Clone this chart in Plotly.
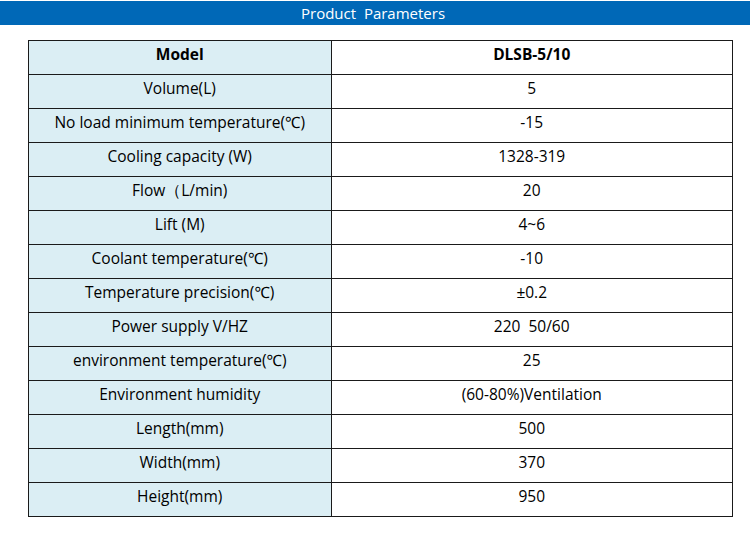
import plotly.graph_objects as go

# table contents
header = ["Model", "DLSB-5/10"]
params = [
    "Volume(L)",
    "No load minimum temperature(℃)",
    "Cooling capacity (W)",
    "Flow（L/min)",
    "Lift (M)",
    "Coolant temperature(℃)",
    "Temperature precision(℃)",
    "Power supply V/HZ",
    "environment temperature(℃)",
    "Environment humidity",
    "Length(mm)",
    "Width(mm)",
    "Height(mm)",
]
values = [
    "5",
    "-15",
    "1328-319",
    "20",
    "4~6",
    "-10",
    "±0.2",
    "220  50/60",
    "25",
    "(60-80%)Ventilation",
    "500",
    "370",
    "950",
]

W, H = 750, 540
fontfam = "Open Sans, Noto Sans, sans-serif"
left_fill = "#DBEEF4"
line_col = "#1a1a1a"

fig = go.Figure(go.Table(
    domain=dict(x=[28 / W, 732.5 / W], y=[1 - 518 / H, 1 - 40 / H]),
    columnwidth=[303, 400],
    header=dict(
        values=header,
        fill_color=[left_fill, "white"],
        line=dict(color=line_col, width=1),
        font=dict(family=fontfam, size=15.5, color="black", weight="bold"),
        align="center",
        height=34,
    ),
    cells=dict(
        values=[params, values],
        fill_color=[left_fill, "white"],
        line=dict(color=line_col, width=1),
        font=dict(family=fontfam, size=15.5, color="black"),
        align="center",
        height=34,
    ),
))

# blue title bar
fig.add_shape(type="rect", xref="paper", yref="paper",
              x0=0, x1=1, y0=1 - 25 / H, y1=1 - 1 / H,
              fillcolor="#0068B7", line_width=0, layer="below")
fig.add_annotation(text="Product  Parameters", xref="paper", yref="paper",
                   x=0.497, y=1 - 13 / H, yanchor="middle", showarrow=False,
                   font=dict(family=fontfam, size=15, color="white"))

fig.update_layout(
    width=W, height=H,
    margin=dict(l=0, r=0, t=0, b=0),
    paper_bgcolor="white",
    plot_bgcolor="white",
)
fig.write_html("out.html", config={"displayModeBar": False},
               post_script="document.body.style.margin='0';")
